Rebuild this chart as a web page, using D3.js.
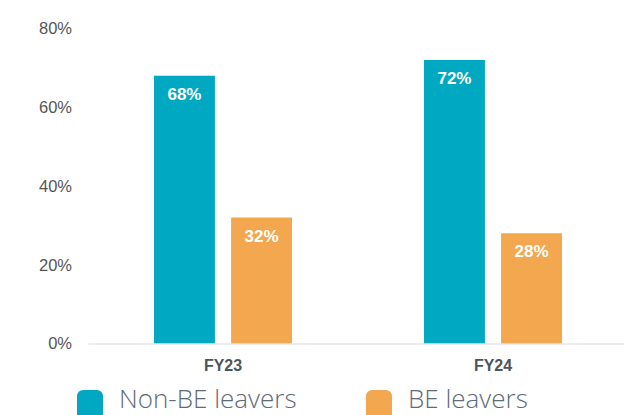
<!DOCTYPE html>
<html>
<head>
<meta charset="utf-8">
<script src="https://cdn.jsdelivr.net/npm/d3@7"></script>
<style>
  body { margin: 0; background: #fff; }
  svg { display: block; }
</style>
</head>
<body>
<svg id="chart" width="624" height="415"></svg>
<script>
/** Chart data */
var years = ['FY23', 'FY24'];
var seriesNames = ['Non-BE leavers', 'BE leavers'];
var nonBE = [68, 72];
var be = [32, 28];
var yTicks = [0, 20, 40, 60, 80];

var colors = ['#00a9c1', '#f3a74f'];

var svg = d3.select('#chart');

/** Scales */
var x = d3.scaleBand()
    .domain(years)
    .range([88, 628]);

var inner = d3.scaleBand()
    .domain(seriesNames)
    .range([66, 204])
    .paddingInner(0.21);

var y = d3.scaleLinear()
    .domain([0, 80])
    .range([343.5, 28.5]);

// y labels (no line, no ticks)
var yAxis = d3.axisLeft(y)
    .tickValues(yTicks)
    .tickSize(0)
    .tickPadding(0)
    .tickFormat(function (d) { return d + '%'; });

var gy = svg.append('g')
    .attr('transform', 'translate(72,0)')
    .call(yAxis);
gy.select('.domain').remove();
gy.selectAll('text')
    .style('font-family', 'Liberation Sans, Arial, sans-serif')
    .style('font-size', '16.5px')
    .style('fill', '#555');

// bars
var rows = years.map(function (yr, i) {
    return {year: yr, values: [nonBE[i], be[i]]};
});

var groups = svg.selectAll('.grp').data(rows)
    .enter()
    .append('g')
    .attr('class', 'grp')
    .attr('transform', function (d) { return 'translate(' + x(d.year) + ',0)'; });

var cells = groups.selectAll('g').data(function (d) {
        return d.values.map(function (v, j) { return {name: seriesNames[j], value: v, idx: j}; });
    })
    .enter()
    .append('g');

cells.append('rect')
    .attr('x', function (d) { return inner(d.name); })
    .attr('width', inner.bandwidth())
    .attr('y', function (d) { return y(d.value); })
    .attr('height', function (d) { return y(0) - y(d.value); })
    .style('fill', function (d) { return colors[d.idx]; });

cells.append('text')
    .attr('x', function (d) { return inner(d.name) + inner.bandwidth() / 2; })
    .attr('y', function (d) { return y(d.value) + 24; })
    .attr('text-anchor', 'middle')
    .text(function (d) { return d.value + '%'; })
    .style('font-family', 'Liberation Sans, Arial, sans-serif')
    .style('font-weight', 'bold')
    .style('font-size', '17px')
    .style('fill', '#fff');

// x axis baseline and labels
var xAxis = d3.axisBottom(x).tickSize(0).tickPadding(0);
var gx = svg.append('g')
    .attr('transform', 'translate(0,' + y(0) + ')')
    .call(xAxis);
gx.select('.domain')
    .attr('stroke', '#d9dcdf')
    .attr('stroke-width', 1.2);
gx.selectAll('text')
    .attr('y', 27)
    .attr('dy', 0)
    .style('font-family', 'Liberation Sans, Arial, sans-serif')
    .style('font-weight', 'bold')
    .style('font-size', '16px')
    .style('fill', '#4b5560');

// legend
var legendX = [77, 366];
var legend = svg.selectAll('.legend').data(seriesNames)
    .enter()
    .append('g')
    .attr('class', 'legend')
    .attr('transform', function (d, i) { return 'translate(' + legendX[i] + ',390)'; });

legend.append('rect')
    .attr('width', 26)
    .attr('height', 30)
    .attr('rx', 6)
    .style('fill', function (d, i) { return colors[i]; });

legend.append('text')
    .attr('x', 42)
    .attr('y', 18)
    .text(function (d) { return d; })
    .style('font-family', 'Open Sans, sans-serif')
    .style('font-weight', 300)
    .style('font-size', '26px')
    .style('fill', '#5f6b77');
</script>
</body>
</html>
